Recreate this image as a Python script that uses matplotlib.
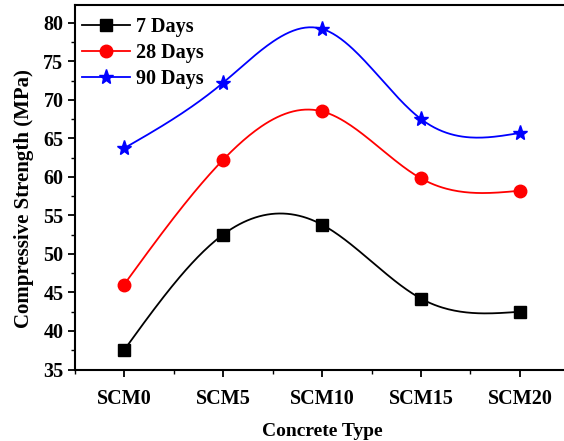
import numpy as np
import matplotlib
matplotlib.use("Agg")
import matplotlib.pyplot as plt
from matplotlib.ticker import MultipleLocator

categories = ["SCM0", "SCM5", "SCM10", "SCM15", "SCM20"]
days7 = [37.5, 52.5, 53.8, 44.2, 42.5]
days28 = [46.0, 62.2, 68.5, 59.8, 58.2]
days90 = [63.7, 72.2, 79.2, 67.5, 65.7]


def natural_spline(x, y, n=200):
    x = np.asarray(x, float)
    y = np.asarray(y, float)
    m = len(x)
    h = np.diff(x)
    A = np.zeros((m, m))
    b = np.zeros(m)
    A[0, 0] = 1
    A[-1, -1] = 1
    for i in range(1, m - 1):
        A[i, i - 1] = h[i - 1]
        A[i, i] = 2 * (h[i - 1] + h[i])
        A[i, i + 1] = h[i]
        b[i] = 6 * ((y[i + 1] - y[i]) / h[i] - (y[i] - y[i - 1]) / h[i - 1])
    M = np.linalg.solve(A, b)
    xs = np.linspace(x[0], x[-1], n)
    ys = np.empty_like(xs)
    for k, t in enumerate(xs):
        i = min(np.searchsorted(x, t, side="right") - 1, m - 2)
        a = x[i + 1] - t
        c = t - x[i]
        ys[k] = (M[i] * a ** 3 / (6 * h[i]) + M[i + 1] * c ** 3 / (6 * h[i])
                 + (y[i] / h[i] - M[i] * h[i] / 6) * a
                 + (y[i + 1] / h[i] - M[i + 1] * h[i] / 6) * c)
    return xs, ys


plt.rcParams['font.family'] = ['Liberation Serif', 'DejaVu Serif']
plt.rcParams['font.weight'] = 'bold'

fig = plt.figure(figsize=(5.64, 4.41), dpi=100)
L, R, T, B = 74.5, 569.5, 5, 369.5
ax = fig.add_axes([L / 564, 1 - B / 441, (R - L) / 564, (B - T) / 441])

x = np.arange(len(categories))
series = [(days7, "7 Days", "black", "s", 8),
          (days28, "28 Days", "red", "o", 9),
          (days90, "90 Days", "blue", "*", 11)]
for vals, lab, col, mk, ms in series:
    xs, ys = natural_spline(x, vals)
    ax.plot(xs, ys, color=col, lw=1.3)
    ax.plot(x, vals, linestyle="none", marker=mk, color=col, ms=ms)
    ax.plot([], [], color=col, lw=1.3, marker=mk, ms=ms, label=lab)

ax.set_xlim(-0.5, 4.5)
ax.set_ylim(35, 82.3)
ax.set_xticks(x)
ax.set_xticklabels(categories)
ax.xaxis.set_minor_locator(MultipleLocator(0.5))
ax.yaxis.set_major_locator(MultipleLocator(5))
ax.yaxis.set_minor_locator(MultipleLocator(2.5))
ax.tick_params(which="major", direction="out", length=5, width=1.3, labelsize=14.5)
ax.tick_params(which="minor", direction="out", length=3, width=1.0)
ax.tick_params(axis="x", pad=9)
ax.tick_params(axis="y", pad=3)
for s in ax.spines.values():
    s.set_linewidth(1.5)

ax.set_xlabel("Concrete Type", fontsize=14, fontweight="bold", labelpad=10)
ax.set_ylabel("Compressive Strength (MPa)", fontsize=15, fontweight="bold")
ax.yaxis.set_label_coords((33.5 - L) / (R - L), (B - 199) / (B - T))

leg = ax.legend(loc="upper left", frameon=False, fontsize=14.5,
                handlelength=2.4, handletextpad=0.3, labelspacing=0.3,
                borderaxespad=0.2, bbox_to_anchor=(-0.01, 1.0))

fig.savefig("out.png", dpi=100)
